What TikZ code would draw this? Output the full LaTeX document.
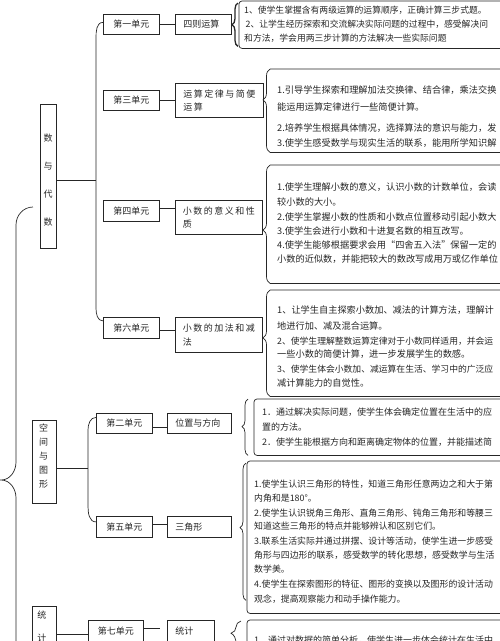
\documentclass[tikz,border=0pt]{standalone}
\usepackage{fontspec}
\setmainfont{Noto Sans CJK SC}
\newfontfamily\cjkw[LetterSpace=17]{Noto Sans CJK SC}
\usetikzlibrary{decorations.pathreplacing}
\begin{document}
\begin{tikzpicture}[x=1pt,y=-1pt,
  every node/.style={text=black!85},
  link/.style={line width=0.7pt, draw=black!85},
  box/.style={draw=black!85, line width=0.8pt, anchor=north west, inner sep=0pt, font=\fontsize{9}{11}\selectfont},
  ubox/.style={box, minimum width=56pt, minimum height=20pt},
  tbox/.style={box, inner xsep=8pt, align=left},
  wbox/.style={box, inner xsep=0pt, align=left, font=\cjkw\fontsize{9}{13.5}\selectfont},
  vbox/.style={draw=black!85, line width=0.8pt, anchor=north west, inner sep=0pt},
  vtext/.style={align=center, inner sep=0pt, font=\fontsize{9}{#1}\selectfont},
  dline/.style={line width=0.7pt, draw=black!85, rounded corners=3pt},
  darea/.style={anchor=north west, inner sep=0pt},
  bracel/.style 2 args={decorate, decoration={brace, amplitude=#1, aspect=#2}, line width=0.7pt, draw=black!85},
  dt/.style={anchor=west, inner sep=0pt, font=\fontsize{#1}{#1}\selectfont},
]
\useasboundingbox (0,0) rectangle (500,641);

% ---------- section boxes ----------
\node[vbox, minimum width=16pt, minimum height=144pt] (sd) at (40,104) {};
\node[vtext=28pt] (sdt) at (48,180.5) {数\\与\\代\\数};
\node[vbox, minimum width=24pt, minimum height=83pt] (kj) at (32,420) {};
\node[vtext=14pt] (kjt) at (43.5,456) {空\\间\\与\\图\\形};
\node[vbox, minimum width=24pt, minimum height=70pt] (tjs) at (32,606) {};
\node[vtext=23pt] (tjt) at (42,626.5) {统\\计};

% ---------- unit boxes ----------
\node[ubox] (u1) at (103,14) {第一单元};
\node[ubox] (u3) at (103,90) {第三单元};
\node[ubox, minimum height=21pt] (u4) at (103,200) {第四单元};
\node[ubox, minimum height=21pt] (u6) at (103,317) {第六单元};
\node[ubox] (u2) at (96,413) {第二单元};
\node[ubox, minimum height=21pt] (u5) at (96,516) {第五单元};
\node[ubox, minimum width=55pt, minimum height=22pt] (u7) at (88,620) {第七单元};

% ---------- topic boxes ----------
\node[tbox, text width=40pt, minimum height=20pt] (t1) at (175,14) {四则运算};
\node[wbox, minimum width=88pt, minimum height=34pt] (t3) at (175,83) {运算定律与简便\\运算};
\node[wbox, minimum width=87pt, minimum height=34pt, font=\cjkw\fontsize{9}{13}\selectfont] (t4) at (175,200) {小数的意义和性\\质};
\node[wbox, minimum width=87pt, minimum height=35pt] (t6) at (175,317) {小数的加法和减\\法};
\node[tbox, text width=48pt, minimum height=20pt] (t2) at (167,413) {位置与方向};
\node[tbox, text width=48pt, minimum height=21pt] (t5) at (167,516) {三角形};
\node[tbox, text width=31pt, minimum height=22pt] (t7) at (167,620) {统计};

% ---------- connectors ----------
\coordinate (vA) at (96,180);
\draw[link] (sd.east |- vA) -- (vA);
\draw[link] ([yshift=2pt]u1.west) to[out=180,in=90] (96,38) -- (96,308) to[out=-90,in=180] ([yshift=7pt]u6.west);
\draw[link] (u1.east) -- (t1.west);
\draw[link] (u3.east) -- (u3.east -| t3.west);
\draw[link] ([yshift=3pt]u4.east) -- ([yshift=3pt]u4.east -| t4.west);
\draw[link] ([yshift=-2pt]u6.east) -- ([yshift=-2pt]u6.east -| t6.west);

\coordinate (vB) at (88,468);
\draw[link] (kj.east |- vB) -- (vB);
\draw[link] ([yshift=6pt]u2.west) to[out=180,in=90] (88,430) -- (88,506) to[out=-90,in=180] ([yshift=5pt]u5.west);
\draw[link] ([yshift=-4pt]u2.east) -- ([yshift=-4pt]u2.east -| t2.west);
\draw[link] ([yshift=3pt]u5.east) -- ([yshift=3pt]u5.east -| t5.west);

\coordinate (c7) at ([yshift=-3pt]u7.west);
\draw[link] (tjs.east |- c7) -- (c7);
\coordinate (c7b) at ([yshift=3pt]u7.east);
\draw[link] (c7b) -- ([xshift=-7pt]t7.west |- c7b);

% big left brace
\draw[link] (33,207) to[out=180,in=90] (16,225) -- (16,462) to[out=-90,in=0] (1,480) to[out=0,in=90] (16,498) -- (16,680);

% ---------- description boxes ----------
\node[darea, minimum width=280pt, minimum height=47pt] (d1) at (239,1) {};
\draw[dline] (d1.north west) rectangle (d1.south east);
\draw[bracel={6pt}{0.5}, line width=1.3pt] ([xshift=-1pt,yshift=2pt]d1.south west) -- ([xshift=-1pt,yshift=-2pt]d1.north west);

\node[darea, minimum width=250pt, minimum height=83pt] (d2) at (270,69) {};
\draw[dline] (d2.north west) -- (d2.north east) -- (d2.south east) -- (d2.south west);
\draw[bracel={7pt}{0.63}] (d2.south west) -- (d2.north west);

\node[darea, minimum width=250pt, minimum height=118pt] (d3) at (270,165) {};
\draw[dline] (d3.north west) -- (d3.north east) -- (d3.south east) -- (d3.south west);
\draw[bracel={7pt}{0.45}] (d3.south west) -- (d3.north west);

\node[darea, minimum width=250pt, minimum height=106pt] (d4) at (270,290) {};
\draw[dline] (d4.north west) -- (d4.north east) -- (d4.south east) -- (d4.south west);
\draw[bracel={7pt}{0.55}] (d4.south west) -- (d4.north west);

\node[darea, minimum width=266pt, minimum height=56pt] (d5) at (254,399) {};
\draw[dline] (d5.north west) rectangle (d5.south east);
\draw[bracel={6pt}{0.51}] ([xshift=-6pt]d5.south west) -- ([xshift=-6pt]d5.north west);

\node[darea, minimum width=273pt, minimum height=152pt] (d6) at (247,461) {};
\draw[dline] (d6.north west) rectangle (d6.south east);
\draw[bracel={6pt}{0.53}] ([xshift=-1pt,yshift=13pt]d6.south west) -- ([xshift=-1pt,yshift=-2pt]d6.north west);

\node[darea, minimum width=273pt, minimum height=60pt] (d7) at (247,620) {};
\draw[dline] (d7.north west) rectangle (d7.south east);
\draw[bracel={10pt}{0.69}] ([xshift=-6pt,yshift=20pt]d7.south west) -- ([xshift=-6pt,yshift=-1pt]d7.north west);

% ---------- description texts ----------
\foreach \yy/\tx [count=\i] in {
  10/{1、使学生掌握含有两级运算的运算顺序，正确计算三步式题。},
  24/{\,2、让学生经历探索和交流解决实际问题的过程中，感受解决问},
  38/{和方法，学会用两三步计算的方法解决一些实际问题}}
  \node[dt=8.8pt] (a\i) at (244,\yy) {\tx};

\foreach \yy/\tx [count=\i] in {
  90/{1.引导学生探索和理解加法交换律、结合律，乘法交换},
  107/{能运用运算定律进行一些简便计算。},
  128/{2.培养学生根据具体情况，选择算法的意识与能力，发},
  143/{3.使学生感受数学与现实生活的联系，能用所学知识解}}
  \node[dt=9.2pt] (b\i) at (277,\yy) {\tx};

\foreach \yy/\tx [count=\i] in {
  187/{1.使学生理解小数的意义，认识小数的计数单位，会读},
  202/{较小数的大小。},
  217/{2.使学生掌握小数的性质和小数点位置移动引起小数大},
  231/{3.使学生会进行小数和十进复名数的相互改写。},
  245/{4.使学生能够根据要求会用“四舍五入法”保留一定的},
  259/{小数的近似数，并能把较大的数改写成用万或亿作单位}}
  \node[dt=9.2pt] (c\i) at (277,\yy) {\tx};

\foreach \yy/\tx/\fs [count=\i] in {
  310/{1、让学生自主探索小数加、减法的计算方法，理解计}/9.2pt,
  326/{地进行加、减及混合运算。}/9.2pt,
  341/{2、使学生理解整数运算定律对于小数同样适用，并会运}/8.8pt,
  354/{一些小数的简便计算，进一步发展学生的数感。}/9.2pt,
  369/{3、使学生体会小数加、减运算在生活、学习中的广泛应}/8.8pt,
  383/{减计算能力的自觉性。}/9.2pt}
  \node[dt=\fs] (e\i) at (277,\yy) {\tx};

\foreach \yy/\tx [count=\i] in {
  412/{1．通过解决实际问题，使学生体会确定位置在生活中的应},
  427/{置的方法。},
  442/{2．使学生能根据方向和距离确定物体的位置，并能描述简}}
  \node[dt=9pt] (f\i) at (262,\yy) {\tx};

\foreach \yy/\tx [count=\i] in {
  484/{1.使学生认识三角形的特性，知道三角形任意两边之和大于第},
  498/{内角和是180°。},
  513/{2.使学生认识锐角三角形、直角三角形、钝角三角形和等腰三},
  526/{知道这些三角形的特点并能够辨认和区别它们。},
  541/{3.联系生活实际并通过拼摆、设计等活动，使学生进一步感受},
  555/{角形与四边形的联系，感受数学的转化思想，感受数学与生活},
  569/{数学美。},
  584/{4.使学生在探索图形的特征、图形的变换以及图形的设计活动},
  599/{观念，提高观察能力和动手操作能力。}}
  \node[dt=8.9pt] (g\i) at (254,\yy) {\tx};

\node[dt=9pt] (h1) at (254,640) {1、通过对数据的简单分析，使学生进一步体会统计在生活中};
\end{tikzpicture}
\end{document}
